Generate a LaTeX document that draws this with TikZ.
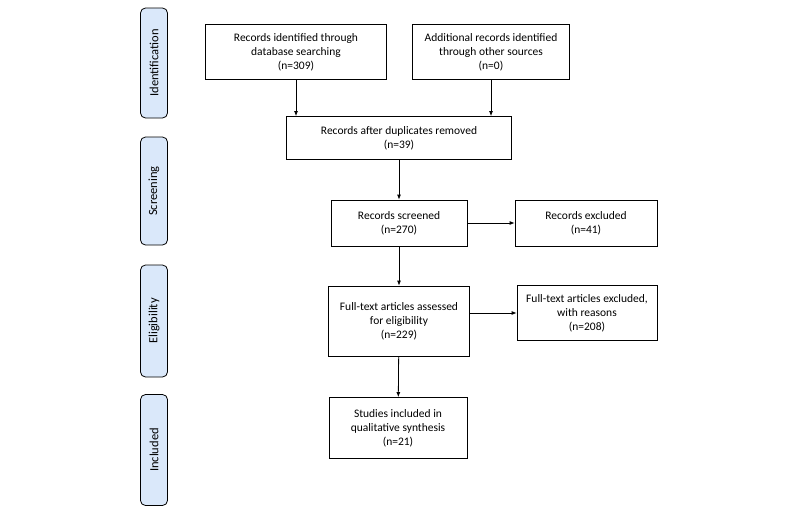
\documentclass[tikz,border=0pt]{standalone}
\usepackage{fontspec}
\setmainfont{Carlito}
\usetikzlibrary{arrows.meta}
\definecolor{phasefill}{RGB}{218,232,250}
\tikzset{
  box/.style={draw, thick, align=center, font=\fontsize{11.5}{14}\selectfont, inner sep=2pt},
  phase/.style={draw, thick, rounded corners=5pt, fill=phasefill, minimum height=27pt, rotate=90, font=\fontsize{12.5}{14}\selectfont},
  arr/.style={-{Latex[length=5pt,width=4pt]}, thick}
}
\begin{document}
\begin{tikzpicture}[x=1pt,y=-1pt]
\useasboundingbox (0,0) rectangle (800,514);
% phases
\node[phase, minimum width=110pt] (ident) at (154,63) {Identification};
\node[phase, minimum width=108pt] (screen) at (154,191) {Screening};
\node[phase, minimum width=112pt] (elig) at (154,321) {Eligibility};
\node[phase, minimum width=111pt] (incl) at (154,450) {Included};
% boxes
\node[box, minimum width=181pt, minimum height=55pt] (db) at (296,52) {Records identified through\\database searching\\(n=309)};
\node[box, minimum width=157pt, minimum height=55pt] (other) at (491,52) {Additional records identified\\through other sources\\(n=0)};
\node[box, minimum width=225pt, minimum height=43pt] (dup) at (399,138) {Records after duplicates removed\\(n=39)};
\node[box, minimum width=136pt, minimum height=46pt] (scr) at (399,223) {Records screened\\(n=270)};
\node[box, minimum width=142pt, minimum height=46pt] (excl) at (586,223) {Records excluded\\(n=41)};
\node[box, minimum width=141pt, minimum height=70pt] (full) at (399,321) {Full-text articles assessed\\for eligibility\\(n=229)};
\node[box, minimum width=140pt, minimum height=55pt] (fexcl) at (587,313) {Full-text articles excluded,\\with reasons\\(n=208)};
\node[box, minimum width=138pt, minimum height=61pt] (study) at (398,428) {Studies included in\\qualitative synthesis\\(n=21)};
% arrows
\draw[arr] (db.south) -- (db.south |- dup.north);
\draw[arr] (other.south) -- (other.south |- dup.north);
\draw[arr] (dup) -- (scr);
\draw[arr] (scr) -- (full);
\draw[arr] (full) -- (study);
\draw[arr] (scr) -- (excl);
\draw[arr] (full.east |- fexcl) -- (fexcl);
\end{tikzpicture}
\end{document}
